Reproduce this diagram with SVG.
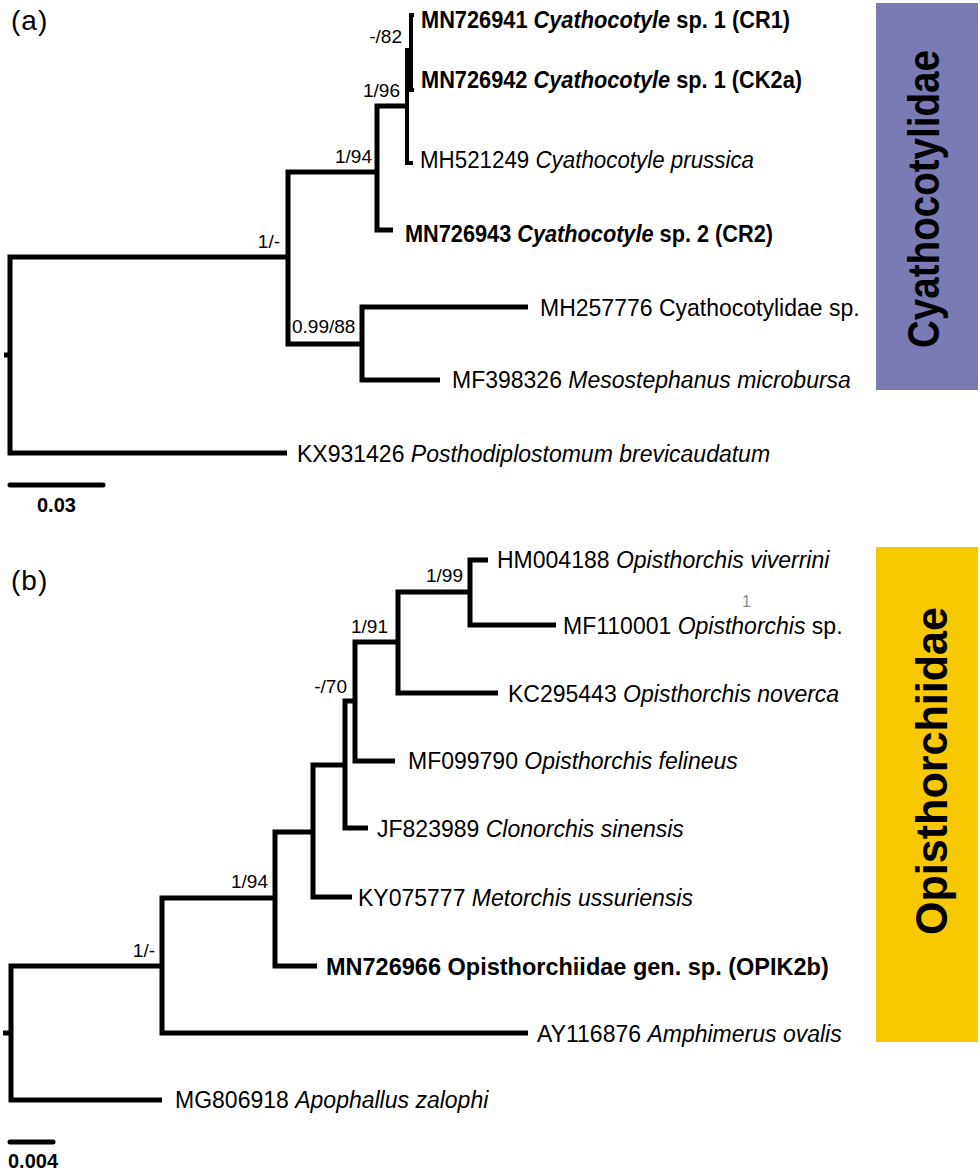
<svg xmlns="http://www.w3.org/2000/svg" width="980" height="1172" viewBox="0 0 980 1172">
<style>
.br{fill:none;stroke:#000;stroke-width:5;stroke-linejoin:miter;stroke-linecap:butt}
.sc{fill:none;stroke:#000;stroke-width:5;stroke-linecap:round}
text{font-family:"Liberation Sans",Arial,sans-serif;fill:#000}
.tx{font-size:23px}
.b{font-weight:bold;font-size:23.5px}
.sup{font-size:19px;text-anchor:end}
.sup0{font-size:19px}
.pl{font-size:28px;letter-spacing:1px}
.scl{font-size:20px;font-weight:bold}
.fam{font-size:44px;font-weight:bold;text-anchor:middle}
</style>
<rect width="980" height="1172" fill="#fff"/>
<g id="panel-labels">
<text class="pl" x="11" y="30">(a)</text>
<text class="pl" x="11" y="590">(b)</text>
</g>
<g id="connectors">
<path class="br" d="M4 355 H10"/>
<path class="br" d="M287 257 H10 V453 H287"/>
<path class="br" d="M377 172 H288 V344 H362"/>
<path class="br" d="M407 106 H377 V230 H393"/>
<path class="br" style="stroke-width:4" d="M411 50 H407 V163 H413"/>
<path class="br" style="stroke-width:4" d="M414 15 H411 V90 H414"/>
<path class="br" d="M528 307 H362 V380 H440"/>
<path class="br" d="M3 1033 H11"/>
<path class="br" d="M162 966 H11 V1100 H162"/>
<path class="br" d="M276 898 H162 V1033 H528"/>
<path class="br" d="M313 832 H275 V966 H317"/>
<path class="br" d="M345 765 H313 V897 H352"/>
<path class="br" d="M355 701 H345 V828 H368"/>
<path class="br" d="M398 642 H355 V761 H395"/>
<path class="br" d="M470 592 H398 V693 H498"/>
<path class="br" d="M488 560 H470 V625 H556"/>
</g>
<g id="support-a">
<text class="sup" x="402" y="43">-/82</text>
<text class="sup" x="400" y="97">1/96</text>
<text class="sup" x="372" y="163">1/94</text>
<text class="sup" x="280" y="248">1/-</text>
<text class="sup0" x="292" y="333">0.99/88</text>
</g>
<g id="taxa-a">
<g id="MN726941"><text class="tx b" x="421" y="28" textLength="369" lengthAdjust="spacingAndGlyphs">MN726941 <tspan font-style="italic">Cyathocotyle</tspan> sp. 1 (CR1)</text></g>
<g id="MN726942"><text class="tx b" x="421" y="88" textLength="381" lengthAdjust="spacingAndGlyphs">MN726942 <tspan font-style="italic">Cyathocotyle</tspan> sp. 1 (CK2a)</text></g>
<g id="MH521249"><text class="tx" x="420" y="168" textLength="334" lengthAdjust="spacingAndGlyphs">MH521249 <tspan font-style="italic">Cyathocotyle prussica</tspan></text></g>
<g id="MN726943"><text class="tx b" x="405" y="242" textLength="368" lengthAdjust="spacingAndGlyphs">MN726943 <tspan font-style="italic">Cyathocotyle</tspan> sp. 2 (CR2)</text></g>
<g id="MH257776"><text class="tx" x="540" y="316">MH257776 Cyathocotylidae sp.</text></g>
<g id="MF398326"><text class="tx" x="452" y="388">MF398326 <tspan font-style="italic">Mesostephanus microbursa</tspan></text></g>
<g id="KX931426"><text class="tx" x="297" y="462">KX931426 <tspan font-style="italic">Posthodiplostomum brevicaudatum</tspan></text></g>
</g>
<g id="scale-a">
<path class="sc" d="M10 485 H103"/>
<text class="scl" x="37" y="512">0.03</text>
</g>
<g id="support-b">
<text class="sup" x="463" y="582">1/99</text>
<text class="sup" x="388" y="633">1/91</text>
<text class="sup" x="347" y="693">-/70</text>
<text class="sup" x="268" y="888">1/94</text>
<text class="sup" x="155" y="957">1/-</text>
</g>
<g id="taxa-b">
<g id="HM004188"><text class="tx" x="497" y="568">HM004188 <tspan font-style="italic">Opisthorchis viverrini</tspan></text></g>
<g id="MF110001"><text class="tx" x="563" y="634">MF110001 <tspan font-style="italic">Opisthorchis</tspan> sp.</text></g>
<g id="KC295443"><text class="tx" x="508" y="702">KC295443 <tspan font-style="italic">Opisthorchis noverca</tspan></text></g>
<g id="MF099790"><text class="tx" x="408" y="769">MF099790 <tspan font-style="italic">Opisthorchis felineus</tspan></text></g>
<g id="JF823989"><text class="tx" x="377" y="837">JF823989 <tspan font-style="italic">Clonorchis sinensis</tspan></text></g>
<g id="KY075777"><text class="tx" x="358" y="906">KY075777 <tspan font-style="italic">Metorchis ussuriensis</tspan></text></g>
<g id="MN726966"><text class="tx b" x="326" y="975">MN726966 Opisthorchiidae gen. sp. (OPIK2b)</text></g>
<g id="AY116876"><text class="tx" x="537" y="1042">AY116876 <tspan font-style="italic">Amphimerus ovalis</tspan></text></g>
<g id="MG806918"><text class="tx" x="175" y="1108">MG806918 <tspan font-style="italic">Apophallus zalophi</tspan></text></g>
<text x="742" y="607" font-size="16" style="fill:#888">1</text>
</g>
<g id="scale-b">
<path class="sc" d="M10 1142 H53"/>
<text class="scl" x="8" y="1168">0.004</text>
</g>
<g id="family-a">
<rect x="876" y="3" width="102" height="387" fill="#7a7ab4"/>
<text class="fam" transform="translate(939,199) rotate(-90)" textLength="298" lengthAdjust="spacingAndGlyphs">Cyathocotylidae</text>
</g>
<g id="family-b">
<rect x="876" y="547" width="102" height="495" fill="#f8c900"/>
<text class="fam" transform="translate(947,771) rotate(-90)" textLength="328" lengthAdjust="spacingAndGlyphs">Opisthorchiidae</text>
</g>
</svg>
